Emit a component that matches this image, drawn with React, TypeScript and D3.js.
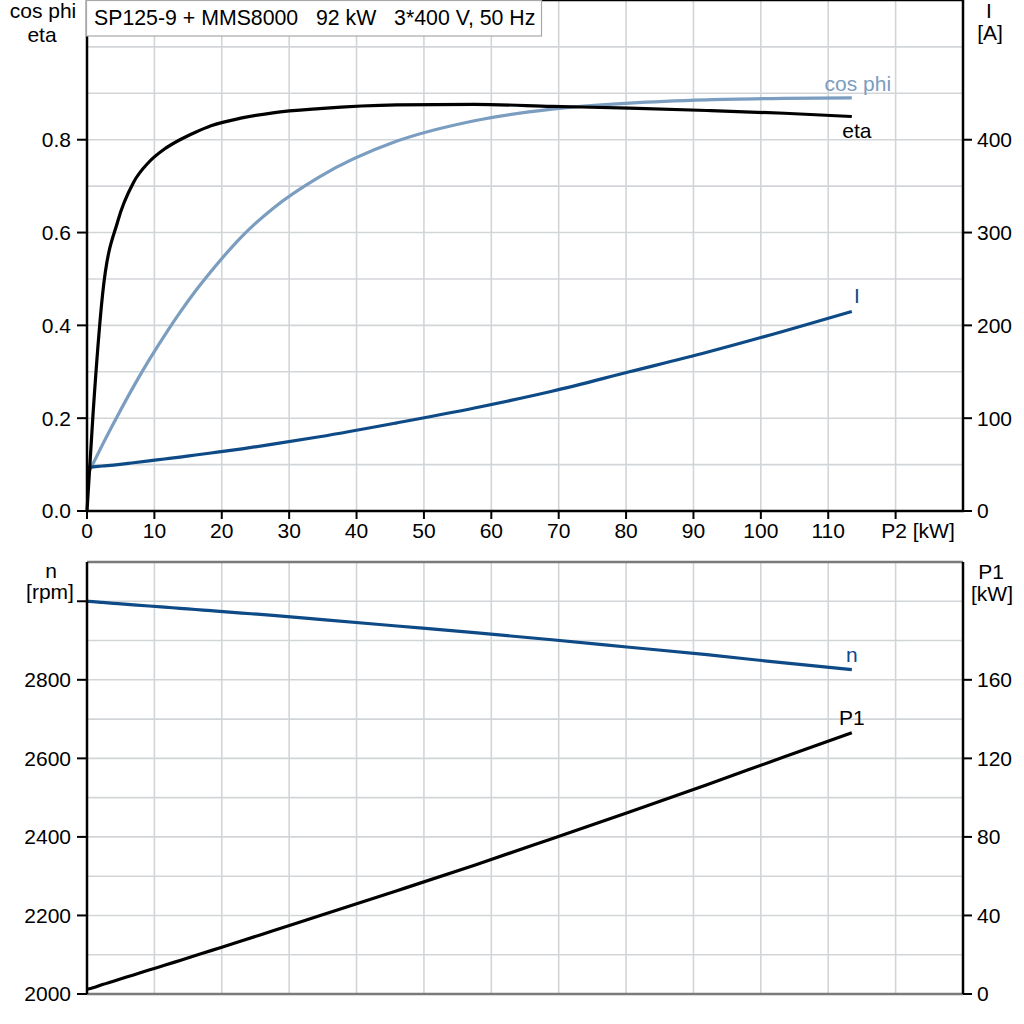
import React from 'react';
import * as d3 from 'd3';

// P2 shaft power samples [kW] shared by all curves
const P2 = [0, 0.9, 2.3, 4.6, 6.9, 9.2, 11.5, 13.8, 16.1, 18.4, 23, 27.6, 34.5, 46, 57.5, 69, 80.5, 92, 103.5, 113.5];
const ETA = [0, 0.21, 0.465, 0.626, 0.708, 0.752, 0.78, 0.8, 0.816, 0.83, 0.847, 0.858, 0.867, 0.875, 0.876, 0.872, 0.868, 0.863, 0.857, 0.85];
const COS_PHI = [0.075, 0.102, 0.143, 0.207, 0.268, 0.325, 0.378, 0.428, 0.474, 0.516, 0.592, 0.652, 0.72, 0.797, 0.841, 0.866, 0.879, 0.886, 0.889, 0.89];
const CURRENT = [47, 47.6, 48.5, 50, 52, 54, 56, 58, 60.3, 62.5, 67, 72, 80, 95, 111, 129, 150, 171, 194, 215];
const SPEED = [3000, 2999, 2997, 2994, 2991, 2988, 2985, 2982, 2979, 2976, 2970, 2964, 2954, 2937, 2920, 2902, 2883, 2864, 2843, 2826];
const P1 = [2.4, 3.2, 4.8, 7.3, 9.7, 12.2, 14.6, 17.1, 19.6, 22.1, 27.1, 32.2, 39.8, 52.6, 65.6, 79.1, 92.7, 106.6, 120.8, 133];

const X_TICKS = [0, 10, 20, 30, 40, 50, 60, 70, 80, 90, 100, 110];
const X_GRID = [10, 20, 30, 40, 50, 60, 70, 80, 90, 100, 110, 120];
const ETA_TICKS = [0, 0.2, 0.4, 0.6, 0.8];
const ETA_GRID = [0.1, 0.2, 0.3, 0.4, 0.5, 0.6, 0.7, 0.8, 0.9, 1.0];
const I_TICKS = [0, 100, 200, 300, 400];
const N_TICKS = [2000, 2200, 2400, 2600, 2800];
const N_GRID = [2100, 2200, 2300, 2400, 2500, 2600, 2700, 2800, 2900, 3000];
const P1_TICKS = [0, 40, 80, 120, 160];

const TITLE = 'SP125-9 + MMS8000   92 kW   3*400 V, 50 Hz';

const FONT = '"Liberation Sans", Arial, sans-serif';
const BLACK = '#000000';
const LIGHT = '#7a9dc0';
const DARK = '#0d4a86';
const GRID = '#d2d5d8';

const left = 87;
const right = 963;
const top1 = 0.5;
const bottom1 = 511;
const top2 = 562;
const bottom2 = 994;

const App: React.FC = () => {
  const x = d3.scaleLinear().domain([0, 130]).range([left, right]);
  const yEta = d3.scaleLinear().domain([0, 1.1]).range([bottom1, top1]);
  const yI = d3.scaleLinear().domain([0, 550]).range([bottom1, top1]);
  const yN = d3.scaleLinear().domain([2000, 3100]).range([bottom2, top2]);
  const yP1 = d3.scaleLinear().domain([0, 220]).range([bottom2, top2]);

  const mkLine = (ys: number[], scale: d3.ScaleLinear<number, number>) =>
    d3.line<number>()
      .x((_, i) => x(P2[i]))
      .y(d => scale(d))
      .curve(d3.curveMonotoneX)(ys) || '';

  const last = P2.length - 1;
  const fmt1 = d3.format('.1f');

  return (
    <svg width={1024} height={1024} style={{ position: 'absolute', left: 0, top: 0, background: '#fff' }}
      fontFamily={FONT} fontSize={21}>
      <rect width={1024} height={1024} fill="#fff" />

      {/* grid - top panel */}
      {X_GRID.map(v => (
        <line key={'gx1' + v} x1={x(v)} x2={x(v)} y1={top1} y2={bottom1} stroke={GRID} strokeWidth={1.6} />
      ))}
      {ETA_GRID.map(v => (
        <line key={'gy1' + v} x1={left} x2={right} y1={yEta(v)} y2={yEta(v)} stroke={GRID} strokeWidth={1.6} />
      ))}
      {/* grid - bottom panel */}
      {X_GRID.map(v => (
        <line key={'gx2' + v} x1={x(v)} x2={x(v)} y1={top2} y2={bottom2} stroke={GRID} strokeWidth={1.6} />
      ))}
      {N_GRID.map(v => (
        <line key={'gy2' + v} x1={left} x2={right} y1={yN(v)} y2={yN(v)} stroke={GRID} strokeWidth={1.6} />
      ))}

      {/* curves - top */}
      <path d={mkLine(COS_PHI, yEta)} fill="none" stroke={LIGHT} strokeWidth={3.2} />
      <path d={mkLine(CURRENT, yI)} fill="none" stroke={DARK} strokeWidth={3.2} />
      <path d={mkLine(ETA, yEta)} fill="none" stroke={BLACK} strokeWidth={3.2} />
      {/* curves - bottom */}
      <path d={mkLine(SPEED, yN)} fill="none" stroke={DARK} strokeWidth={3.2} />
      <path d={mkLine(P1, yP1)} fill="none" stroke={BLACK} strokeWidth={3.2} />

      {/* curve labels */}
      <text x={x(P2[last]) + 6} y={yEta(COS_PHI[last]) - 7} fill={LIGHT} textAnchor="middle">cos phi</text>
      <text x={x(P2[last]) + 5} y={yEta(ETA[last]) + 21} fill={BLACK} textAnchor="middle">eta</text>
      <text x={x(P2[last]) + 5} y={yI(CURRENT[last]) - 8} fill={DARK} textAnchor="middle">I</text>
      <text x={x(P2[last])} y={yN(SPEED[last]) - 8} fill={DARK} textAnchor="middle">n</text>
      <text x={x(P2[last])} y={yP1(P1[last]) - 8} fill={BLACK} textAnchor="middle">P1</text>

      {/* frames - top */}
      <line x1={left} x2={right} y1={top1} y2={top1} stroke={BLACK} strokeWidth={1.5} />
      <line x1={left} x2={left} y1={0} y2={bottom1} stroke={BLACK} strokeWidth={2.5} />
      <line x1={right} x2={right} y1={0} y2={bottom1} stroke={BLACK} strokeWidth={2.5} />
      <line x1={left - 1} x2={right + 1} y1={bottom1} y2={bottom1} stroke={BLACK} strokeWidth={2.5} />
      {/* frames - bottom */}
      <line x1={left} x2={right} y1={top2} y2={top2} stroke="#7a7a7a" strokeWidth={2.5} />
      <line x1={left} x2={right} y1={bottom2} y2={bottom2} stroke="#7a7a7a" strokeWidth={2.5} />
      <line x1={left} x2={left} y1={top2} y2={bottom2} stroke={BLACK} strokeWidth={2.5} />
      <line x1={right} x2={right} y1={top2} y2={bottom2} stroke={BLACK} strokeWidth={2.5} />

      {/* x axis ticks */}
      {[...X_TICKS, 120].map(v => (
        <line key={'xt' + v} x1={x(v)} x2={x(v)} y1={bottom1} y2={bottom1 + 8} stroke={BLACK} strokeWidth={2} />
      ))}
      {X_TICKS.map(v => (
        <text key={'xl' + v} x={x(v)} y={538} textAnchor="middle">{v}</text>
      ))}
      <text x={918} y={538} textAnchor="middle">P2 [kW]</text>

      {/* left axis top: cos phi / eta */}
      {ETA_TICKS.map(v => (
        <g key={'et' + v}>
          <line x1={left - 10} x2={left} y1={yEta(v)} y2={yEta(v)} stroke={BLACK} strokeWidth={2} />
          <text x={71} y={yEta(v)} dy="0.35em" textAnchor="end">{fmt1(v)}</text>
        </g>
      ))}
      <text x={43} y={18} textAnchor="middle">cos phi</text>
      <text x={42} y={42} textAnchor="middle">eta</text>

      {/* right axis top: I */}
      {I_TICKS.map(v => (
        <g key={'it' + v}>
          <line x1={right} x2={right + 9} y1={yI(v)} y2={yI(v)} stroke={BLACK} strokeWidth={2} />
          <text x={977} y={yI(v)} dy="0.35em" textAnchor="start">{v}</text>
        </g>
      ))}
      <text x={989} y={18} textAnchor="middle">I</text>
      <text x={990} y={40} textAnchor="middle">[A]</text>

      {/* left axis bottom: n */}
      {[...N_TICKS, 3000].map(v => (
        <line key={'nt' + v} x1={left - 10} x2={left} y1={yN(v)} y2={yN(v)} stroke={BLACK} strokeWidth={2} />
      ))}
      {N_TICKS.map(v => (
        <text key={'nl' + v} x={71} y={yN(v)} dy="0.35em" textAnchor="end">{v}</text>
      ))}
      <text x={51} y={578} textAnchor="middle">n</text>
      <text x={50} y={599} textAnchor="middle">[rpm]</text>

      {/* right axis bottom: P1 */}
      {P1_TICKS.map(v => (
        <g key={'pt' + v}>
          <line x1={right} x2={right + 9} y1={yP1(v)} y2={yP1(v)} stroke={BLACK} strokeWidth={2} />
          <text x={977} y={yP1(v)} dy="0.35em" textAnchor="start">{v}</text>
        </g>
      ))}
      <text x={991} y={579} textAnchor="middle">P1</text>
      <text x={992} y={601} textAnchor="middle">[kW]</text>

      {/* title box */}
      <rect x={86.5} y={0.5} width={455} height={35.5} fill="#fff" stroke="#a8a8a8" strokeWidth={1.2} />
      <text x={94} y={25} fontSize={21.3} style={{ whiteSpace: 'pre' }}>{TITLE}</text>
    </svg>
  );
};

export default App;
